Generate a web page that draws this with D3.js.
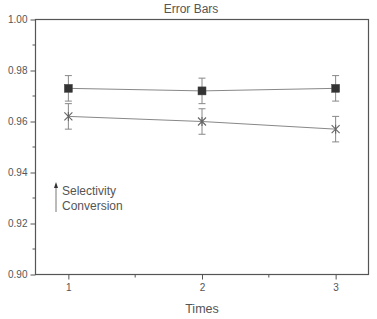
<!DOCTYPE html>
<html><head><meta charset="utf-8">
<script src="https://cdn.jsdelivr.net/npm/d3@7"></script>
<style>body{margin:0;background:#fff}svg{display:block;font-family:"Liberation Sans",Arial,sans-serif}</style>
</head><body><svg id="c" width="377" height="319"></svg>
<script>
const times = [1, 2, 3];
const selectivity = [0.973, 0.972, 0.973];
const selectivityErr = [0.005, 0.005, 0.005];
const conversion = [0.962, 0.960, 0.957];
const conversionErr = [0.005, 0.005, 0.005];
const yTicks = [0.90, 0.92, 0.94, 0.96, 0.98, 1.00];
const xTicks = [1, 2, 3];
const legendLabels = ["Selectivity", "Conversion"];
const title = "Error Bars";
const xLabel = "Times";

const svg = d3.select("#c");
const L = 35.5, R = 368.5, T = 19.5, B = 274.5;
const x = d3.scaleLinear().domain([0.754, 3.246]).range([L, R]);
const y = d3.scaleLinear().domain([0.90, 1.00]).range([B, T]);
const frame = "#555", txt = "#555", lineC = "#888";

// frame
svg.append("rect").attr("x", L).attr("y", T).attr("width", R - L).attr("height", B - T)
  .attr("fill", "none").attr("stroke", frame).attr("stroke-width", 1.2);

// y axis
const ya = svg.append("g").attr("transform", `translate(${L},0)`)
  .call(d3.axisLeft(y).tickValues(yTicks).tickFormat(d3.format(".2f")).tickSize(5).tickPadding(3));
ya.select(".domain").remove();
ya.selectAll("line").attr("stroke", frame);
ya.selectAll("text").attr("fill", txt).attr("font-size", 10).attr("font-family", "Liberation Sans, Arial");
const yMinor = d3.range(0.91, 1.0, 0.02);
svg.append("g").selectAll("line").data(yMinor).join("line")
  .attr("x1", L - 3).attr("x2", L).attr("y1", d => y(d)).attr("y2", d => y(d)).attr("stroke", frame);

// x axis
const xa = svg.append("g").attr("transform", `translate(0,${B})`)
  .call(d3.axisBottom(x).tickValues(xTicks).tickFormat(d3.format("d")).tickSize(5).tickPadding(4));
xa.select(".domain").remove();
xa.selectAll("line").attr("stroke", frame);
xa.selectAll("text").attr("fill", txt).attr("font-size", 10).attr("font-family", "Liberation Sans, Arial");
svg.append("g").selectAll("line").data([1.5, 2.5]).join("line")
  .attr("x1", d => x(d)).attr("x2", d => x(d)).attr("y1", B).attr("y2", B + 3).attr("stroke", frame);

// title & label
svg.append("text").attr("x", 191).attr("y", 13).attr("text-anchor", "middle")
  .attr("font-size", 12).attr("fill", txt).text(title);
svg.append("text").attr("x", 202).attr("y", 313).attr("text-anchor", "middle")
  .attr("font-size", 12.5).attr("fill", txt).text(xLabel);

function series(vals, errs) {
  const g = svg.append("g");
  g.append("path").datum(times.map((t, i) => [t, vals[i]]))
    .attr("d", d3.line().x(d => x(d[0])).y(d => y(d[1])))
    .attr("fill", "none").attr("stroke", lineC).attr("stroke-width", 1);
  times.forEach((t, i) => {
    const cx = x(t), top = y(vals[i] + errs[i]), bot = y(vals[i] - errs[i]);
    g.append("line").attr("x1", cx).attr("x2", cx).attr("y1", top).attr("y2", bot).attr("stroke", lineC);
    [top, bot].forEach(yy => g.append("line").attr("x1", cx - 3.5).attr("x2", cx + 3.5)
      .attr("y1", yy).attr("y2", yy).attr("stroke", lineC));
  });
  return g;
}
const gs = series(selectivity, selectivityErr);
times.forEach((t, i) => {
  gs.append("rect").attr("x", x(t) - 4).attr("y", y(selectivity[i]) - 4).attr("width", 8).attr("height", 8)
    .attr("fill", "#333").attr("stroke", "#444").attr("stroke-width", 0.5);
});
const gc = series(conversion, conversionErr);
times.forEach((t, i) => {
  const cx = x(t), cy = y(conversion[i]), r = 4;
  gc.append("path").attr("d", `M${cx - r},${cy - r}L${cx + r},${cy + r}M${cx - r},${cy + r}L${cx + r},${cy - r}M${cx},${cy - r - 0.5}L${cx},${cy + r + 0.5}`)
    .attr("stroke", "#666").attr("stroke-width", 1.1).attr("fill", "none");
});

// legend
const lx = 56;
svg.append("line").attr("x1", lx).attr("x2", lx).attr("y1", 187).attr("y2", 212).attr("stroke", "#777").attr("stroke-width", 1);
svg.append("path").attr("d", `M${lx - 2},${188}L${lx},${182}L${lx + 2},${188}Z`).attr("fill", "#333");
svg.append("text").attr("x", 62).attr("y", 195).attr("font-size", 12).attr("fill", txt).text(legendLabels[0]);
svg.append("text").attr("x", 62).attr("y", 210).attr("font-size", 12).attr("fill", txt).text(legendLabels[1]);
</script></body></html>
